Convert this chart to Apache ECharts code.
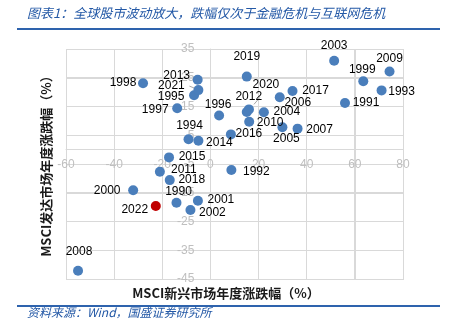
<!DOCTYPE html>
<html>
<head>
<meta charset="utf-8">
<script src="https://cdn.jsdelivr.net/npm/echarts@6/dist/echarts.min.js"></script>
<style>
html,body{margin:0;padding:0;background:#fff;}
#chart{width:454px;height:332px;}
</style>
</head>
<body>
<div id="chart"></div>
<script>
// ---- data ----
const years = [1990,1991,1992,1993,1994,1995,1996,1997,1998,1999,2000,2001,2002,2003,2004,2005,2006,2007,2008,2009,2010,2011,2012,2013,2014,2015,2016,2017,2018,2019,2020,2021,2022];
// MSCI emerging markets annual change (%), x axis
const emReturn = [-14.1,55.9,8.7,71.1,-9.1,-6.8,3.6,-13.8,-28.0,63.5,-32.1,-5.2,-8.3,51.4,22.2,29.9,28.8,36.2,-55.0,74.4,16.1,-21.0,15.1,-5.3,-5.0,-17.2,8.5,34.1,-16.9,15.1,16.0,-5.0,-22.7];
// MSCI developed markets annual change (%), y axis
const dmReturn = [-18.5,16.2,-7.1,20.6,3.6,18.9,11.9,14.4,23.1,23.8,-14.1,-17.8,-21.0,30.9,13.0,7.8,18.2,7.3,-42.1,27.2,9.7,-7.7,13.1,24.3,3.1,-2.7,5.3,20.4,-10.6,25.4,14.0,20.7,-19.6];
const highlightYear = 2022;
// tick labels
const xTicks = [-60,-40,-20,0,20,40,60,80];
const yTicks = [-45,-35,-25,-15,-5,5,15,25,35];

// ---- styling: label placement in pixels relative to each point ----
const labelShift = {
  1990:[2,-11],1991:[21,-0.5],1992:[25,2],1993:[20,1.5],1994:[1,-14],1995:[-23,1.5],
  1996:[-1,-11],1997:[-22,1],1998:[-20,-0.5],1999:[-1,-11.5],2000:[-26,1],2001:[23,-1],
  2002:[22,2.5],2003:[0,-15],2004:[23,-0.5],2005:[4,11],2006:[18,5],2007:[22,1],
  2008:[1,-19],2009:[0,-13],2010:[21,1],2011:[24,-2.5],2012:[2,-15],2013:[-21,-4.5],
  2014:[21,1.5],2015:[23,-0.5],2016:[18,-0.5],2017:[23,0],2018:[22,-0.5],2019:[0,-20],
  2020:[17,-25],2021:[-27,-4],2022:[-21,3.5]
};
// short grey leader lines (pixel segment relative to the point) for moved labels
const leaderSegments = { 2020:[[5,-5],[11,-12]], 2021:[[-4,-2],[-9,-4]] };

const blue = '#4a7ebb', red = '#c00000', gridColor = '#d9d9d9', tickColor = '#bfbfbf';
const titleBlue = '#2358a6';
const latin = '"Liberation Sans", Arial, sans-serif';

const xMin = xTicks[0], xMax = xTicks[xTicks.length-1];
const yMin = yTicks[0], yMax = yTicks[yTicks.length-1];

const data = years.map((y,i) => {
  const item = { value:[emReturn[i], dmReturn[i]], name:String(y), label:{ offset: labelShift[y] || [0,0] } };
  if (y === highlightYear) item.itemStyle = { color: red };
  return item;
});
const leaderData = years.map((y,i) => leaderSegments[y] ? [emReturn[i], dmReturn[i], y] : null).filter(Boolean);
// grid rules: [x, y, orientation] — 0 = vertical rule at x, 1 = horizontal rule at y
const ruleData = xTicks.map(v => [v, yMin, 0]).concat(yTicks.map(v => [xMin, v, 1]), [[xMin, 0, 1]]);

const gridLeft = 66, gridRight = 51, gridTop = 49, gridBottom = 53;
const chart = echarts.init(document.getElementById('chart'));
chart.setOption({
  animation:false,
  grid:{ left:gridLeft, right:gridRight, top:gridTop, bottom:gridBottom },
  xAxis:{
    type:'value', min:xMin, max:xMax, interval:xTicks[1]-xTicks[0],
    axisLine:{ show:true, onZero:false, lineStyle:{ color:gridColor } },
    axisTick:{ show:false },
    axisLabel:{ color:tickColor, fontSize:12, margin:9, fontFamily:latin },
    splitLine:{ show:true, lineStyle:{ color:gridColor, width:1 } }
  },
  yAxis:{
    type:'value', min:yMin, max:yMax, interval:yTicks[1]-yTicks[0],
    axisLine:{ show:true, onZero:false, lineStyle:{ color:gridColor } },
    axisTick:{ show:false },
    axisLabel:{ color:tickColor, fontSize:12, margin:16, fontFamily:latin },
    splitLine:{ show:true, lineStyle:{ color:gridColor, width:1 } }
  },
  series:[{
    type:'custom',
    silent:true,
    z:0,
    clip:false,
    data:ruleData,
    renderItem:function(params, api){
      const vertical = api.value(2) === 0;
      if (vertical) {
        const a = api.coord([api.value(0), yMin]);
        const b = api.coord([api.value(0), yMax]);
        return { type:'rect', shape:{ x:Math.round(a[0]-0.5), y:Math.round(b[1]), width:1, height:Math.round(a[1]-b[1]) },
                 style:{ fill:gridColor } };
      }
      const a = api.coord([xMin, api.value(1)]);
      const b = api.coord([xMax, api.value(1)]);
      return { type:'rect', shape:{ x:Math.round(a[0]), y:Math.round(a[1]-0.5), width:Math.round(b[0]-a[0])+1, height:1 },
               style:{ fill:gridColor } };
    }
  },{
    type:'custom',
    silent:true,
    z:1,
    data:leaderData,
    renderItem:function(params, api){
      const p = api.coord([api.value(0), api.value(1)]);
      const seg = leaderSegments[api.value(2)];
      return { type:'line', shape:{ x1:p[0]+seg[0][0], y1:p[1]+seg[0][1], x2:p[0]+seg[1][0], y2:p[1]+seg[1][1] },
               style:{ stroke:'#a6a6a6', lineWidth:1 } };
    }
  },{
    type:'scatter',
    z:2,
    symbolSize:10,
    itemStyle:{ color:blue, opacity:1 },
    label:{ show:true, position:'inside', formatter:'{b}', color:'#000', fontSize:12,
            textBorderWidth:0, fontFamily:latin },
    data:data
  }],
  graphic:[
    { type:'text', left:27, top:7, style:{ text:'图表1：全球股市波动放大，跌幅仅次于金融危机与互联网危机',
      fill:titleBlue, font:'italic 13px "Noto Sans CJK SC", sans-serif' } },
    { type:'rect', shape:{ x:17, y:28, width:423, height:2 }, style:{ fill:'#2e63ad' } },
    { type:'text', x:46.5, y:163, rotation:Math.PI/2,
      style:{ text:'MSCI发达市场年度涨跌幅（%）', fill:'#1a1a1a', align:'center', verticalAlign:'middle',
      font:'bold 13px "Noto Sans CJK SC", sans-serif' } },
    { type:'text', x:226, y:293,
      style:{ text:'MSCI新兴市场年度涨跌幅（%）', fill:'#1a1a1a', align:'center', verticalAlign:'middle',
      font:'bold 13px "Noto Sans CJK SC", sans-serif' } },
    { type:'rect', shape:{ x:17, y:305, width:423, height:2 }, style:{ fill:'#2e63ad' } },
    { type:'text', left:27, top:306, style:{ text:'资料来源：Wind，国盛证券研究所',
      fill:titleBlue, font:'italic 12px "Noto Sans CJK SC", sans-serif' } }
  ]
});
// move both axes so they cross at the origin (0,0), as in the reference
const origin = chart.convertToPixel({gridIndex:0}, [0,0]);
const plotBottom = chart.getHeight() - gridBottom;
chart.setOption({
  xAxis:{ offset: origin[1] - plotBottom },
  yAxis:{ offset: gridLeft - origin[0] }
});
</script>
</body>
</html>
